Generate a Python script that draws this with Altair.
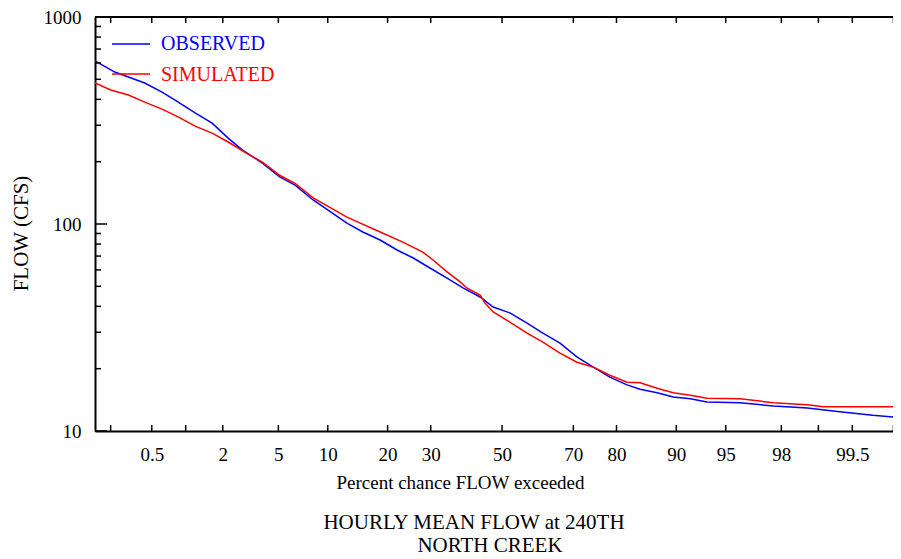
import altair as alt
import pandas as pd
from statistics import NormalDist

# ---------------- data ----------------
series = ["OBSERVED", "SIMULATED"]
series_colors = ["#0000ff", "#ff0000"]

obs_pct = [0.138, 0.22, 0.3, 0.43, 0.62, 0.81, 1.2, 1.65, 2.2, 2.8, 3.9, 5.1, 6.4, 8.2,
           12.7, 15.3, 18.5, 22.0, 25.7, 29.8, 34.3, 38.7, 43.6, 47.4, 52.3, 57.3, 61.8,
           66.5, 70.9, 74.8, 78.6, 82.1, 84.5, 87.3, 89.6, 91.7, 93.4, 96.0, 97.7, 98.76,
           99.35, 99.68, 99.832]
obs_flow = [613, 542, 513, 480, 434, 397, 344, 307, 260, 228, 197, 169, 154, 131,
            101, 91.5, 83.7, 74.9, 68.5, 61.3, 54.8, 49.1, 44.4, 39.7, 37.2, 33.2, 29.7,
            26.6, 22.8, 20.4, 18.2, 16.7, 15.9, 15.3, 14.6, 14.3, 13.8, 13.7, 13.2, 12.9,
            12.4, 11.9, 11.6]

sim_pct = [0.138, 0.2, 0.3, 0.43, 0.62, 0.86, 1.2, 1.65, 2.2, 2.9, 3.9, 5.1, 6.4, 8.2,
           12.7, 18.5, 23.3, 28.0, 30.6, 34.3, 37.9, 39.8, 43.6, 45.0, 47.4, 52.3, 57.3,
           61.8, 66.5, 70.9, 74.8, 78.6, 82.1, 84.5, 87.3, 89.6, 91.7, 93.4, 96.0, 97.7,
           98.76, 99.09, 99.832]
sim_flow = [480, 444, 420, 388, 359, 329, 297, 275, 249, 223, 199, 172, 157, 134,
            108, 91.5, 81.8, 73.2, 67, 58.7, 52.5, 49.1, 45.4, 41.5, 37.6, 33.6, 29.7,
            26.9, 23.8, 21.5, 20.4, 18.6, 17.2, 17.1, 16.1, 15.3, 14.9, 14.4, 14.3, 13.7,
            13.4, 13.1, 13.1]

x_label_values = [0.5, 2, 5, 10, 20, 30, 50, 70, 80, 90, 95, 98, 99.5]
x_tick_values = [0.2, 0.5, 1, 2, 5, 10, 20, 30, 50, 70, 80, 90, 95, 98, 99, 99.5, 99.8]
x_domain_pct = [0.138, 99.798]
y_major = [10, 100, 1000]
y_minor = [m * 10 ** e for e in (1, 2) for m in range(2, 10)]

x_title = "Percent chance FLOW exceeded"
y_title = "FLOW (CFS)"
title_lines = ["HOURLY MEAN FLOW at 240TH", "NORTH CREEK"]

# ---------------- layout ----------------
W, H = 798, 414
FONT = "Liberation Serif"
FS = 19

nd = NormalDist()


def zval(p):
    return nd.inv_cdf(p / 100.0)


df = pd.DataFrame({
    "pct": obs_pct + sim_pct,
    "flow": obs_flow + sim_flow,
    "series": [series[0]] * len(obs_pct) + [series[1]] * len(sim_pct),
})
df["z"] = [zval(p) for p in df["pct"]]

xscale = alt.Scale(domain=[zval(x_domain_pct[0]), zval(x_domain_pct[1])], nice=False, zero=False)
yscale = alt.Scale(type="log", domain=[10, 1000], nice=False)

label_expr = " : ".join(
    f"abs(datum.value - ({zval(v):.6f})) < 0.0001 ? '{v:g}'" for v in x_label_values
) + " : ''"

x_axis = alt.Axis(
    values=[zval(v) for v in x_label_values], labelExpr=label_expr, ticks=False, grid=False,
    domain=True, domainColor="black", domainWidth=2, labelFont=FONT, labelFontSize=FS,
    labelColor="black", labelPadding=14, labelFlush=False, labelOverlap=False,
    title=x_title, titleFont=FONT, titleFontSize=FS, titleFontWeight="normal",
    titleColor="black", titleX=365, titleY=57, titleAlign="center", titleBaseline="alphabetic",
)
y_axis = alt.Axis(
    values=y_major, format="d", ticks=False, grid=False, domain=True, domainColor="black",
    domainWidth=2, labelFont=FONT, labelFontSize=FS, labelColor="black", labelPadding=14,
    labelFlush=False, labelOverlap=False,
    title=y_title, titleFont=FONT, titleFontSize=21, titleFontWeight="normal",
    titleColor="black", titleX=-74, titleY=216, titleAlign="center",
    titleBaseline="middle", titleAngle=270,
)

X = alt.X("z:Q", scale=xscale, axis=x_axis)
Y = alt.Y("flow:Q", scale=yscale, axis=y_axis)

lines = alt.Chart(df).mark_line(strokeWidth=1.5, clip=True).encode(
    x=X, y=Y,
    color=alt.Color("series:N", scale=alt.Scale(domain=series, range=series_colors), legend=None),
    order="z:Q",
)

xt = pd.DataFrame({"p": x_tick_values})
xt["z"] = [zval(p) for p in xt["p"]]
xt_bottom = alt.Chart(xt).mark_rule(color="black", strokeWidth=1.5).encode(
    x=X, y=alt.value(H), y2=alt.value(H - 6))
xt_top = alt.Chart(xt).mark_rule(color="black", strokeWidth=1.5).encode(
    x=X, y=alt.value(0), y2=alt.value(6))

yt_major = alt.Chart(pd.DataFrame({"flow": y_major})).mark_rule(color="black", strokeWidth=1.5).encode(
    y=Y, x=alt.value(0), x2=alt.value(12))
yt_minor = alt.Chart(pd.DataFrame({"flow": y_minor})).mark_rule(color="black", strokeWidth=1.5).encode(
    y=Y, x=alt.value(0), x2=alt.value(6))

top_border = alt.Chart(pd.DataFrame({"a": [0]})).mark_rule(color="black", strokeWidth=2).encode(
    x=alt.value(0), x2=alt.value(W), y=alt.value(0))

# legend drawn inside the plot
legend_layers = []
leg_rule_y = [27, 57]
leg_text_y = [33, 64]
for name, col, ry, ty in zip(series, series_colors, leg_rule_y, leg_text_y):
    d = pd.DataFrame({"s": [name]})
    legend_layers.append(alt.Chart(d).mark_rule(color=col, strokeWidth=1.5).encode(
        x=alt.value(17), x2=alt.value(55), y=alt.value(ry)))
    legend_layers.append(alt.Chart(d).mark_text(
        color=col, font=FONT, fontSize=20, align="left", baseline="alphabetic").encode(
        x=alt.value(66), y=alt.value(ty), text="s:N"))

# two-line caption below the axis title
title_x = [379, 395]
title_y = [512, 535]
title_layers = []
for txt, tx, ty in zip(title_lines, title_x, title_y):
    title_layers.append(alt.Chart(pd.DataFrame({"t": [txt]})).mark_text(
        color="black", font=FONT, fontSize=21, align="center", baseline="alphabetic").encode(
        x=alt.value(tx), y=alt.value(ty), text="t:N"))

chart = alt.layer(
    lines, xt_bottom, xt_top, yt_major, yt_minor, top_border, *legend_layers, *title_layers
).properties(
    width=W, height=H,
    padding={"left": 87, "top": 9, "right": 0, "bottom": 125},
    autosize=alt.AutoSizeParams(type="none"),
    background="white",
).configure_view(stroke=None)

chart.save("out.html", embed_options={"renderer": "svg", "actions": False})
